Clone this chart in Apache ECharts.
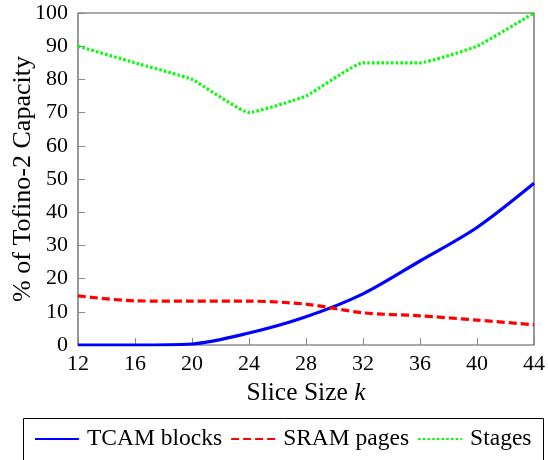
<!DOCTYPE html>
<html>
<head>
<meta charset="utf-8">
<script src="https://cdn.jsdelivr.net/npm/echarts@6/dist/echarts.min.js"></script>
<style>html,body{margin:0;padding:0;background:#fff}#c{width:548px;height:460px}</style>
</head>
<body>
<div id="c"></div>
<script>
const sliceSizes = [12, 16, 20, 24, 28, 32, 36, 40, 44];
const tcamBlocks = [0, 0, 0.3, 3.6, 8.5, 15.4, 25.3, 35.4, 48.7];
const sramPages = [14.8, 13.3, 13.2, 13.2, 12.3, 9.7, 8.8, 7.5, 6.1];
const stages = [90, 85, 80, 70, 75, 85, 85, 90, 100];
const seriesNames = ['TCAM blocks', 'SRAM pages', 'Stages'];

const font = 'Liberation Serif';
const chart = echarts.init(document.getElementById('c'));
const pair = a => sliceSizes.map((x, i) => [x, a[i]]);
chart.setOption({
  animation: false,
  textStyle: { fontFamily: font, color: '#000' },
  grid: { left: 78, right: 14, top: 13, bottom: 115, show: true, borderColor: '#555', borderWidth: 1.2, containLabel: false, outerBoundsMode: 'none' },
  xAxis: {
    type: 'value', min: 12, max: 44, interval: 4,
    axisLine: { show: false },
    axisTick: { inside: true, length: 7, lineStyle: { color: '#888' } },
    splitLine: { show: false },
    axisLabel: { fontFamily: font, fontSize: 22, color: '#000', margin: 8 },
    name: '{n|Slice Size }{k|k}', nameLocation: 'middle', nameGap: 33,
    nameTextStyle: { rich: { n: { fontFamily: font, fontSize: 25.5, color: '#000' }, k: { fontFamily: font, fontSize: 25.5, fontStyle: 'italic', color: '#000' } } }
  },
  yAxis: {
    type: 'value', min: 0, max: 100, interval: 10,
    axisLine: { show: false },
    axisTick: { inside: true, length: 7, lineStyle: { color: '#888' } },
    splitLine: { show: false },
    axisLabel: { fontFamily: font, fontSize: 22, color: '#000', margin: 10 },
    name: '% of Tofino-2 Capacity', nameLocation: 'middle', nameGap: 42, nameMoveOverlap: false,
    nameTextStyle: { fontFamily: font, fontSize: 26, lineHeight: 26, color: '#000' }
  },
  legend: {
    left: 29, top: 422, itemWidth: 44, itemHeight: 14, itemGap: 8,
    itemStyle: { opacity: 0 },
    formatter: '{t|{name}}',
    textStyle: { fontFamily: font, fontSize: 23.5, color: '#000', rich: { t: { fontFamily: font, fontSize: 23.5, color: '#000', padding: [0, 0, 0, 3] } } },
    data: seriesNames
  },
  graphic: [{ type: 'rect', shape: { x: 23.5, y: 418.5, width: 520, height: 60 }, style: { fill: 'none', stroke: '#000', lineWidth: 1 }, silent: true }],
  series: [
    { name: seriesNames[0], type: 'line', data: pair(tcamBlocks), smooth: 0.3, symbol: 'none', lineStyle: { color: '#0000ff', width: 3.2 }, itemStyle: { color: '#0000ff' } },
    { name: seriesNames[1], type: 'line', data: pair(sramPages), smooth: 0.3, symbol: 'none', lineStyle: { color: '#ff0000', width: 3.2, type: [8, 4] }, itemStyle: { color: '#ff0000' } },
    { name: seriesNames[2], type: 'line', data: pair(stages), smooth: 0.12, symbol: 'none', lineStyle: { color: '#00ff00', width: 3.2, type: [2.5, 2.2] }, itemStyle: { color: '#00ff00' } }
  ]
});
</script>
</body>
</html>
